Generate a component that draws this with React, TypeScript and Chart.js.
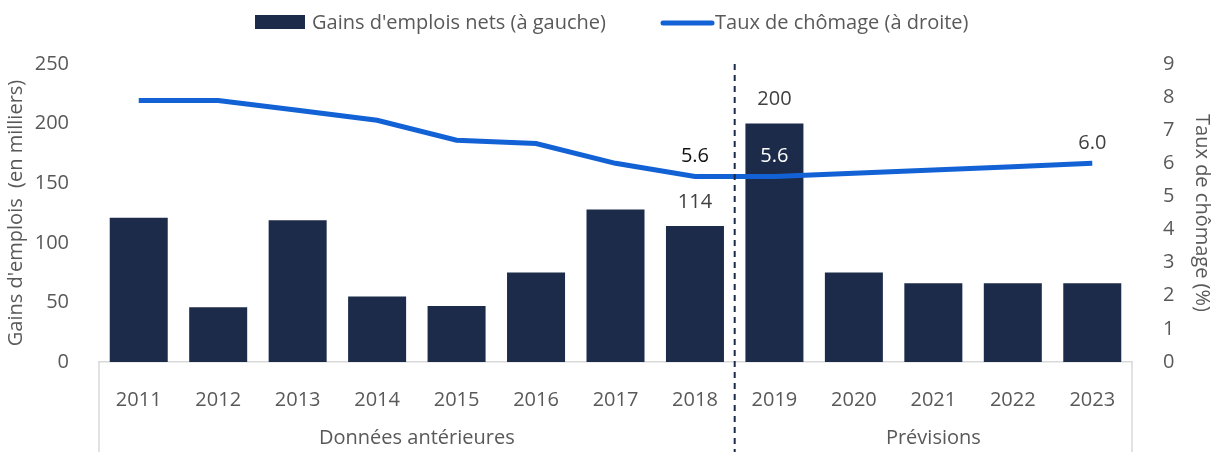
import React, { useEffect, useRef } from "react";
import { Chart, registerables } from "chart.js";

Chart.register(...registerables);

const years = ["2011", "2012", "2013", "2014", "2015", "2016", "2017", "2018", "2019", "2020", "2021", "2022", "2023"];
const jobGains = [121, 46, 119, 55, 47, 75, 128, 114, 200, 75, 66, 66, 66];
const unemployment = [7.9, 7.9, 7.6, 7.3, 6.7, 6.6, 6.0, 5.6, 5.6, 5.7, 5.8, 5.9, 6.0];
const barLabelIdx = [7, 8];
const lineLabelIdx = [7, 8, 12];
const groups = [
  { label: "Données antérieures", from: 0, to: 7 },
  { label: "Prévisions", from: 8, to: 12 },
];
const legendBar = "Gains d'emplois nets (à gauche)";
const legendLine = "Taux de chômage (à droite)";
const leftTitle = "Gains d'emplois  (en milliers)";
const rightTitle = "Taux de chômage (%)";

const BAR = "#1c2b4a";
const LINE = "#1262d6";
const TXT = "#595959";
const FONT = "'Open Sans', 'Noto Sans', sans-serif";
const FS = 20;

const overlay = {
  id: "overlay",
  afterDatasetsDraw(chart: any) {
    const ctx = chart.ctx;
    const x = chart.scales.x;
    const y = chart.scales.y;
    const y1 = chart.scales.y1;
    const area = chart.chartArea;
    const H = chart.height;
    ctx.save();
    const bound = (i: number) => (x.getPixelForValue(i) + x.getPixelForValue(i + 1)) / 2;
    const sepX = bound(7);
    ctx.strokeStyle = "#d9d9d9";
    ctx.lineWidth = 1.5;
    ctx.beginPath();
    ctx.moveTo(area.left, area.bottom);
    ctx.lineTo(area.left, H);
    ctx.moveTo(area.right, area.bottom);
    ctx.lineTo(area.right, H);
    ctx.stroke();
    ctx.strokeStyle = BAR;
    ctx.lineWidth = 2;
    ctx.setLineDash([6, 5]);
    ctx.beginPath();
    ctx.moveTo(sepX, area.top);
    ctx.lineTo(sepX, H);
    ctx.stroke();
    ctx.setLineDash([]);
    ctx.font = `${FS}px ${FONT}`;
    ctx.fillStyle = TXT;
    ctx.textAlign = "center";
    ctx.textBaseline = "middle";
    groups.forEach((g) => {
      const l = g.from === 0 ? area.left : bound(g.from - 1);
      const r = g.to === years.length - 1 ? area.right : bound(g.to);
      ctx.fillText(g.label, (l + r) / 2, 438);
    });
    ctx.fillStyle = "#404040";
    barLabelIdx.forEach((i) => {
      ctx.fillText(String(jobGains[i]), x.getPixelForValue(i), y.getPixelForValue(jobGains[i]) - 24);
    });
    lineLabelIdx.forEach((i) => {
      const v = unemployment[i];
      ctx.fillStyle = i === 8 ? "#ffffff" : i === 7 ? "#111111" : "#404040";
      ctx.fillText(v.toFixed(1), x.getPixelForValue(i), y1.getPixelForValue(v) - 20);
    });
    ctx.textAlign = "left";
    ctx.fillStyle = BAR;
    ctx.fillRect(255, 15, 50, 14);
    ctx.fillStyle = TXT;
    ctx.fillText(legendBar, 312, 23);
    ctx.strokeStyle = LINE;
    ctx.lineWidth = 5;
    ctx.lineCap = "round";
    ctx.beginPath();
    ctx.moveTo(663, 23);
    ctx.lineTo(712, 23);
    ctx.stroke();
    ctx.fillText(legendLine, 715, 23);
    ctx.restore();
  },
};

export default function App() {
  const ref = useRef<HTMLCanvasElement | null>(null);
  useEffect(() => {
    document.body.style.margin = "0";
    const font = { size: FS, family: FONT };
    const chart = new Chart(ref.current as HTMLCanvasElement, {
      type: "bar",
      data: {
        labels: years,
        datasets: [
          {
            type: "line",
            label: legendLine,
            data: unemployment,
            yAxisID: "y1",
            borderColor: LINE,
            backgroundColor: LINE,
            borderWidth: 5,
            pointRadius: 0,
            tension: 0,
            order: 0,
          },
          {
            type: "bar",
            label: legendBar,
            data: jobGains,
            yAxisID: "y",
            backgroundColor: BAR,
            barPercentage: 0.73,
            categoryPercentage: 1,
            order: 1,
          },
        ],
      },
      options: {
        animation: false,
        responsive: false,
        maintainAspectRatio: false,
        layout: { padding: { top: 64, left: 0, right: 0, bottom: 0 } },
        plugins: { legend: { display: false }, tooltip: { enabled: false } },
        scales: {
          x: {
            grid: { display: false },
            border: { display: true, color: "#d9d9d9", width: 1.5 },
            ticks: { color: TXT, font, padding: 18, maxRotation: 0 },
            afterFit: (s: any) => { s.height = 90; },
          },
          y: {
            position: "left",
            min: 0,
            max: 250,
            grid: { display: false },
            border: { display: false },
            ticks: { stepSize: 50, color: TXT, font, padding: 22 },
            title: { display: true, text: leftTitle, color: TXT, font, padding: { top: 4, bottom: 0 } },
            afterFit: (s: any) => { s.width = 99; },
          },
          y1: {
            position: "right",
            min: 0,
            max: 9,
            grid: { display: false },
            border: { display: false },
            ticks: { stepSize: 1, color: TXT, font, padding: 23 },
            title: { display: true, text: rightTitle, color: TXT, font, padding: { top: 0, bottom: 1 } },
            afterFit: (s: any) => { s.width = 82; },
          },
        },
      },
      plugins: [overlay],
    } as any);
    return () => chart.destroy();
  }, []);
  return (
    <div style={{ width: 1214, height: 452 }}>
      <canvas ref={ref} width={1214} height={452} style={{ display: "block" }} />
    </div>
  );
}
